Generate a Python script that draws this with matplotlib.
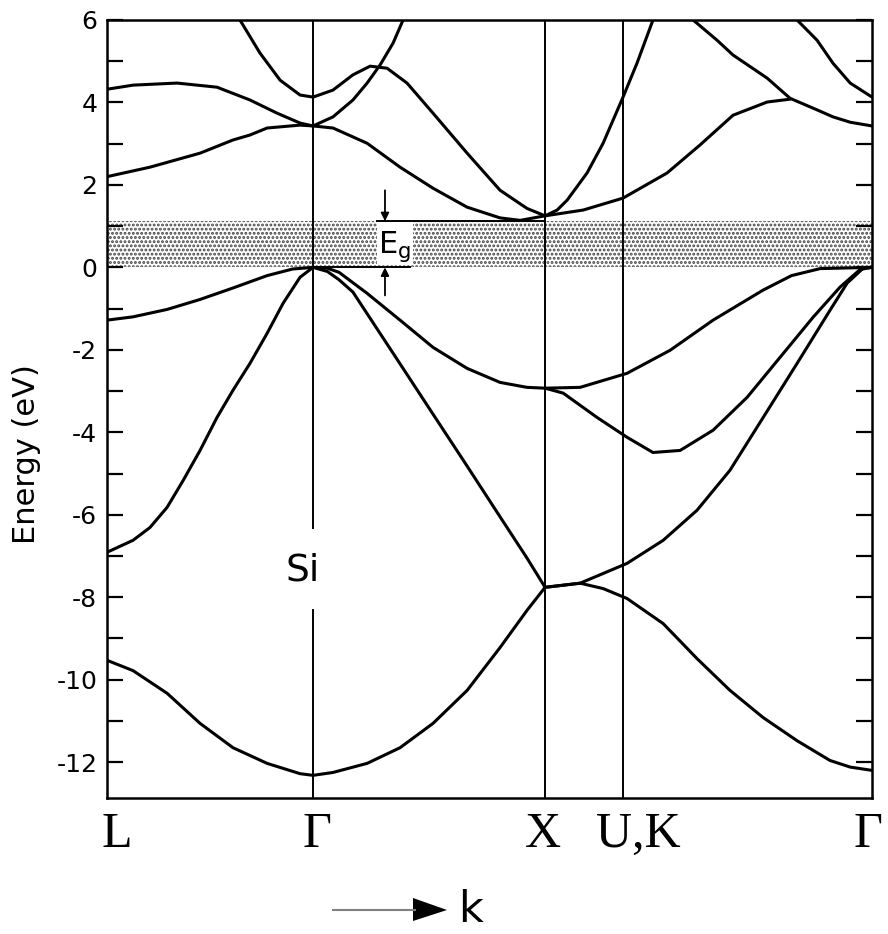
import matplotlib
matplotlib.use("Agg")
import matplotlib.pyplot as plt
from matplotlib.patches import Rectangle, Polygon
from matplotlib.lines import Line2D
from matplotlib.ticker import MultipleLocator
from matplotlib.transforms import ScaledTranslation

plt.rcParams["axes.unicode_minus"] = False
plt.rcParams["hatch.linewidth"] = 1.4

# symmetry points along the path (units of Gamma-X length)
kpts = [0.0, 0.888, 1.888, 2.224, 3.297]
klabels = ["L", "Γ", "X", "U,K", "Γ"]

# valence bands (k, E in eV)
vb1_k = [0.0, 0.112, 0.259, 0.401, 0.543, 0.690, 0.832, 0.888, 0.974, 1.121,
         1.263, 1.405, 1.552, 1.694, 1.810, 1.888]
vb1_e = [-9.53, -9.78, -10.33, -11.06, -11.65, -12.03, -12.28, -12.32, -12.25,
         -12.03, -11.65, -11.06, -10.26, -9.22, -8.32, -7.76]

vb2_lg_k = [0.0, 0.112, 0.185, 0.259, 0.328, 0.401, 0.474, 0.543, 0.616, 0.690,
            0.759, 0.832, 0.888]
vb2_lg_e = [-6.91, -6.62, -6.31, -5.82, -5.17, -4.44, -3.64, -2.98, -2.33, -1.60,
            -0.87, -0.24, 0.0]

vb3_lg_k = [0.0, 0.112, 0.259, 0.40, 0.543, 0.69, 0.80, 0.888]
vb3_lg_e = [-1.28, -1.2, -1.02, -0.78, -0.5, -0.2, -0.04, 0.0]

vb3_gx_k = [0.888, 0.95, 1.0, 1.121, 1.263, 1.405, 1.552, 1.694, 1.81, 1.888]
vb3_gx_e = [0.0, -0.02, -0.12, -0.63, -1.28, -1.94, -2.45, -2.79, -2.91, -2.93]

vb2_gx_k = [0.888, 0.95, 1.0, 1.06, 1.263, 1.405, 1.552, 1.694, 1.81, 1.888]
vb2_gx_e = [0.0, -0.1, -0.3, -0.6, -2.34, -3.56, -4.82, -6.05, -7.05, -7.76]

vb4_xg_k = [1.888, 2.039, 2.241, 2.427, 2.612, 2.828, 2.95, 3.073, 3.297]
vb4_xg_e = [-2.93, -2.91, -2.57, -2.01, -1.28, -0.55, -0.2, -0.03, 0.0]

vb3_xg_k = [1.888, 1.966, 2.112, 2.241, 2.353, 2.470, 2.612, 2.759, 2.901, 3.043,
            3.159, 3.246, 3.297]
vb3_xg_e = [-2.93, -3.05, -3.64, -4.12, -4.49, -4.44, -3.95, -3.15, -2.18, -1.21,
            -0.48, -0.05, 0.0]

vb2_xg_k = [1.888, 2.039, 2.241, 2.397, 2.543, 2.685, 2.828, 2.974, 3.116, 3.190,
            3.259, 3.297]
vb2_xg_e = [-7.76, -7.66, -7.18, -6.62, -5.89, -4.92, -3.64, -2.33, -1.04, -0.38,
            -0.02, 0.0]

vb1_xg_k = [1.888, 2.039, 2.138, 2.241, 2.397, 2.543, 2.685, 2.828, 2.974, 3.116,
            3.203, 3.297]
vb1_xg_e = [-7.76, -7.66, -7.79, -8.03, -8.64, -9.49, -10.26, -10.92, -11.48,
            -11.96, -12.12, -12.2]

# conduction bands
cb1_lg_k = [0.0, 0.185, 0.401, 0.543, 0.616, 0.690, 0.832, 0.888]
cb1_lg_e = [2.2, 2.43, 2.77, 3.09, 3.21, 3.38, 3.45, 3.43]

cb2_lg_k = [0.0, 0.112, 0.302, 0.474, 0.616, 0.733, 0.832, 0.888]
cb2_lg_e = [4.32, 4.42, 4.47, 4.37, 4.06, 3.74, 3.50, 3.43]

cb3_lg_k = [0.573, 0.659, 0.746, 0.832, 0.888]
cb3_lg_e = [6.0, 5.2, 4.54, 4.18, 4.13]

cba_gx_k = [0.888, 0.974, 1.121, 1.263, 1.405, 1.552, 1.694, 1.78, 1.888]
cba_gx_e = [3.43, 3.38, 3.01, 2.43, 1.92, 1.46, 1.2, 1.14, 1.25]

cbb_gx_k = [0.888, 0.974, 1.060, 1.121, 1.177, 1.233, 1.276]
cbb_gx_e = [3.43, 3.65, 4.06, 4.47, 4.91, 5.44, 6.0]

cbc_gx_k = [0.888, 0.974, 1.06, 1.134, 1.207, 1.293, 1.405, 1.552, 1.694, 1.81, 1.888]
cbc_gx_e = [4.13, 4.30, 4.67, 4.88, 4.83, 4.47, 3.74, 2.77, 1.87, 1.43, 1.25]

cbs_xg_k = [1.888, 1.94, 1.983, 2.069, 2.138, 2.224, 2.284, 2.353]
cbs_xg_e = [1.25, 1.39, 1.63, 2.29, 3.01, 4.13, 4.95, 6.0]

cbf_xg_k = [1.888, 2.052, 2.224, 2.414, 2.556, 2.698, 2.845, 2.944]
cbf_xg_e = [1.25, 1.39, 1.68, 2.29, 2.97, 3.69, 4.01, 4.08]

cbd_xg_k = [2.526, 2.629, 2.698, 2.845, 2.944, 3.06, 3.129, 3.203, 3.297]
cbd_xg_e = [6.0, 5.51, 5.15, 4.59, 4.1, 3.82, 3.65, 3.52, 3.43]

cbt_xg_k = [2.974, 3.060, 3.129, 3.203, 3.297]
cbt_xg_e = [6.0, 5.51, 4.95, 4.47, 4.13]

bands = [
    (vb1_k, vb1_e), (vb2_lg_k, vb2_lg_e), (vb3_lg_k, vb3_lg_e),
    (vb3_gx_k, vb3_gx_e), (vb2_gx_k, vb2_gx_e), (vb4_xg_k, vb4_xg_e),
    (vb3_xg_k, vb3_xg_e), (vb2_xg_k, vb2_xg_e), (vb1_xg_k, vb1_xg_e),
    (cb1_lg_k, cb1_lg_e), (cb2_lg_k, cb2_lg_e), (cb3_lg_k, cb3_lg_e),
    (cba_gx_k, cba_gx_e), (cbb_gx_k, cbb_gx_e), (cbc_gx_k, cbc_gx_e),
    (cbs_xg_k, cbs_xg_e), (cbf_xg_k, cbf_xg_e), (cbd_xg_k, cbd_xg_e),
    (cbt_xg_k, cbt_xg_e),
]

EG = 1.12
E_MIN, E_MAX = -12.87, 6.0
SI_GAP = (-8.32, -6.33)  # break in the Gamma line around the "Si" label

fig = plt.figure(figsize=(8.88, 9.34), dpi=100)
ax = fig.add_axes([0.1205, 0.1456, 0.8615, 0.833])

# band gap shading (stippled)
ax.axhspan(0, EG, facecolor="white", edgecolor="#444444", hatch="....", lw=0, zorder=0)
ax.add_patch(Rectangle((1.164, 0.06), 0.155, EG - 0.06, facecolor="white",
                       edgecolor="none", zorder=1))

# symmetry lines
ax.plot([kpts[1]] * 2, [SI_GAP[1], E_MAX], color="black", lw=1.4, zorder=2)
ax.plot([kpts[1]] * 2, [E_MIN, SI_GAP[0]], color="black", lw=1.4, zorder=2)
for k in kpts[2:4]:
    ax.axvline(k, color="black", lw=1.4, zorder=2)

for bk, be in bands:
    ax.plot(bk, be, color="black", lw=2.2, solid_joinstyle="round",
            solid_capstyle="round", zorder=3)

# Eg marker
ax.plot([1.164, kpts[2]], [EG, EG], color="black", lw=1.4, zorder=3)
ax.plot([kpts[1], 1.306], [0, 0], color="black", lw=1.4, zorder=3)
ax.annotate("", xy=(1.198, EG), xytext=(1.198, 1.87),
            arrowprops=dict(arrowstyle="-|>", color="black", lw=1.3,
                            mutation_scale=12, shrinkA=0, shrinkB=0))
ax.annotate("", xy=(1.198, 0), xytext=(1.198, -0.68),
            arrowprops=dict(arrowstyle="-|>", color="black", lw=1.3,
                            mutation_scale=12, shrinkA=0, shrinkB=0))
ax.text(1.241, 0.50, r"$\mathregular{E_g}$", fontsize=22, ha="center", va="center",
        zorder=4)

ax.text(0.845, -7.35, "Si", fontsize=27, ha="center", va="center")

ax.set_xlim(kpts[0], kpts[-1])
ax.set_ylim(E_MIN, E_MAX)

ax.yaxis.set_major_locator(MultipleLocator(2))
ax.yaxis.set_minor_locator(MultipleLocator(1))
ax.tick_params(axis="y", which="both", direction="in", length=11.5, width=1.6,
               left=True, right=True, labelsize=18, pad=7)
ax.set_xticks(kpts)
ax.set_xticklabels(klabels, family="Liberation Serif", fontsize=36)
ax.tick_params(axis="x", length=0, pad=10)
offsets = [10, 4, -2, 15, -4]
for lab, dx in zip(ax.get_xticklabels(), offsets):
    lab.set_transform(lab.get_transform() + ScaledTranslation(dx / 100, 0, fig.dpi_scale_trans))

for sp in ax.spines.values():
    sp.set_linewidth(1.8)

fig.text(0.030, 0.514, "Energy (eV)", rotation=90, ha="center", va="center", fontsize=22)

# k arrow under the axis
W, H = 888, 934
fig.add_artist(Line2D([333 / W, 415 / W], [1 - 910 / H] * 2, color="#808080", lw=1.5))
fig.add_artist(Polygon([[413 / W, 1 - 898 / H], [413 / W, 1 - 921 / H],
                        [447 / W, 1 - 910 / H]], closed=True, facecolor="black",
                       edgecolor="none", transform=fig.transFigure))
fig.text(471 / W, 1 - 910 / H, "k", fontsize=31, ha="center", va="center")

fig.savefig("out.png", dpi=100)
